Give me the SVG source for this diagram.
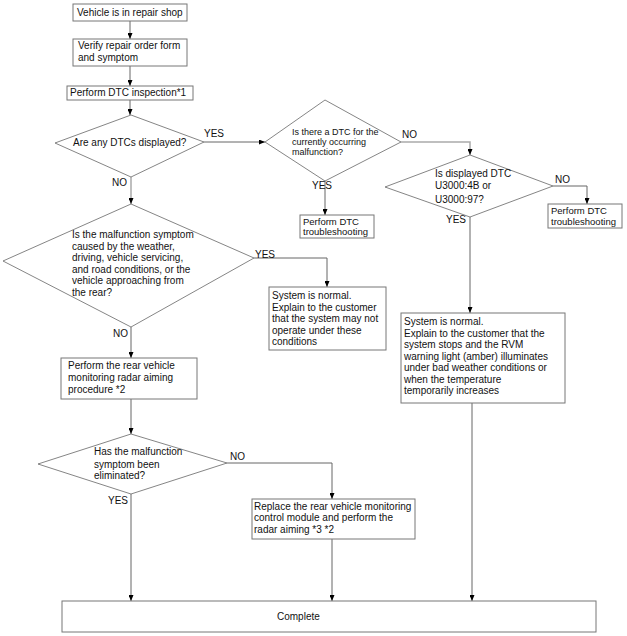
<svg xmlns="http://www.w3.org/2000/svg" width="627" height="636" viewBox="0 0 627 636">
<defs>
<marker id="ah" markerUnits="userSpaceOnUse" markerWidth="6" markerHeight="5" viewBox="0 0 6 5" refX="6" refY="2.5" orient="auto"><path d="M0,0 L6,2.5 L0,5 z" fill="#000"/></marker>
<style>
.box{fill:#fff;stroke:#777;stroke-width:1}
.dia{fill:#fff;stroke:#666;stroke-width:0.8}
.ln{fill:none;stroke:#666;stroke-width:1;marker-end:url(#ah)}
.lg{fill:none;stroke:#aaa;stroke-width:1.5;marker-end:url(#ah)}
text{font-family:"Liberation Sans",Arial,sans-serif;font-size:10px;fill:#111}
.sm{font-size:9px}
.ts{font-size:9.5px}
</style>
</defs>
<rect width="627" height="636" fill="#fff"/>
<g id="connectors">
<path class="ln" d="M130,21 V39"/>
<path class="ln" d="M130,66 V86"/>
<path class="ln" d="M130,100 V115"/>
<path class="ln" d="M204,142 H265"/>
<path class="lg" d="M131,177 V204"/>
<path class="lg" d="M401,142 H470 V155"/>
<path class="ln" d="M325,181 V215"/>
<path class="ln" d="M553,186 H587 V204"/>
<path class="ln" d="M470,217 V313"/>
<path class="ln" d="M254,258 H327 V287"/>
<path class="ln" d="M131,327 V358"/>
<path class="ln" d="M131,399 V434"/>
<path class="ln" d="M227,463 H332 V499"/>
<path class="ln" d="M131,494 V601"/>
<path class="ln" d="M332,539 V601"/>
<path class="ln" d="M472,403 V601"/>
</g>
<g id="labels">
<text x="204" y="137">YES</text>
<text x="112" y="186">NO</text>
<text x="402" y="138">NO</text>
<text x="312" y="189">YES</text>
<text x="555" y="183">NO</text>
<text x="446" y="223">YES</text>
<text x="255" y="258">YES</text>
<text x="113" y="337">NO</text>
<text x="230" y="460">NO</text>
<text x="108" y="504">YES</text>
</g>
<g id="n1"><rect class="box" x="73" y="4" width="114" height="17"/><text x="77" y="16">Vehicle is in repair shop</text></g>
<g id="n2"><rect class="box" x="73" y="39" width="114" height="27"/><text x="78" y="49">Verify repair order form</text><text x="78" y="61">and symptom</text></g>
<g id="n3"><rect class="box" x="67" y="86" width="126" height="14"/><text x="70" y="96">Perform DTC inspection*1</text></g>
<g id="d1"><polygon class="dia" points="131,115 204,142 131,177 55,143"/><text x="73" y="146">Are any DTCs displayed?</text></g>
<g id="d2"><polygon class="dia" points="325,100 401,142 325,181 265,142"/><text class="sm" x="292" y="135">Is there a DTC for the</text><text class="sm" x="292" y="145">currently occurring</text><text class="sm" x="292" y="155">malfunction?</text></g>
<g id="n4"><rect class="box" x="300" y="215" width="74" height="23"/><text class="ts" x="303" y="224.5">Perform DTC</text><text class="ts" x="303" y="235">troubleshooting</text></g>
<g id="d3"><polygon class="dia" points="470,155 553,186 470,217 385,187"/><text x="435" y="177">Is displayed DTC</text><text x="435" y="189">U3000:4B or</text><text x="435" y="203">U3000:97?</text></g>
<g id="n5"><rect class="box" x="548" y="204" width="74" height="24"/><text class="ts" x="551" y="214">Perform DTC</text><text class="ts" x="551" y="224.5">troubleshooting</text></g>
<g id="d4"><polygon class="dia" points="131,204 254,258 131,327 3,261"/><text x="72" y="238">Is the malfunction symptom</text><text x="72" y="250">caused by the weather,</text><text x="72" y="261">driving, vehicle servicing,</text><text x="72" y="273">and road conditions, or the</text><text x="72" y="284">vehicle approaching from</text><text x="72" y="296">the rear?</text></g>
<g id="n6"><rect class="box" x="269" y="287" width="117" height="63"/><text x="272" y="299">System is normal.</text><text x="272" y="311">Explain to the customer</text><text x="272" y="322">that the system may not</text><text x="272" y="334">operate under these</text><text x="272" y="345">conditions</text></g>
<g id="n7"><rect class="box" x="401" y="313" width="164" height="90"/><text x="404" y="325">System is normal.</text><text x="404" y="336.5">Explain to the customer that the</text><text x="404" y="348">system stops and the RVM</text><text x="404" y="359.5">warning light (amber) illuminates</text><text x="404" y="371">under bad weather conditions or</text><text x="404" y="382.5">when the temperature</text><text x="404" y="394">temporarily increases</text></g>
<g id="n8"><rect class="box" x="61" y="358" width="136" height="41"/><text x="68" y="369">Perform the rear vehicle</text><text x="68" y="381">monitoring radar aiming</text><text x="68" y="393">procedure *2</text></g>
<g id="d5"><polygon class="dia" points="131,434 227,463 131,494 38,464"/><text x="94" y="455">Has the malfunction</text><text x="94" y="468">symptom been</text><text x="94" y="479">eliminated?</text></g>
<g id="n9"><rect class="box" x="252" y="499" width="163" height="40"/><text x="254" y="509.5">Replace the rear vehicle monitoring</text><text x="254" y="521">control module and perform the</text><text x="254" y="532.5">radar aiming *3 *2</text></g>
<g id="n10"><rect class="box" x="62" y="601" width="534" height="31"/><text x="277" y="620">Complete</text></g>
</svg>
